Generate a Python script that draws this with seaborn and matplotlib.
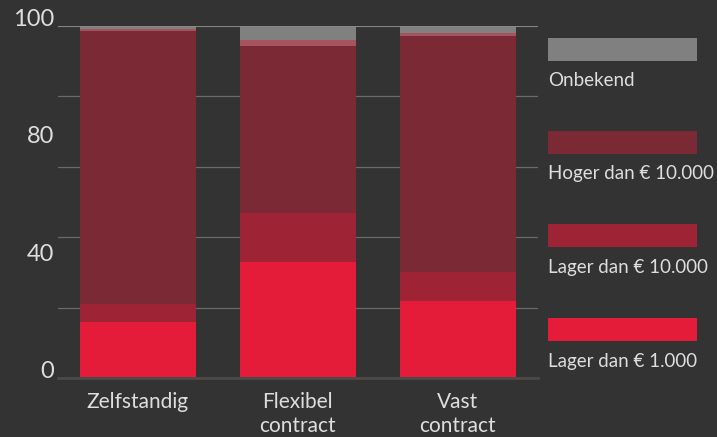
import matplotlib.pyplot as plt
import numpy as np
import pandas as pd
import seaborn as sns
from matplotlib.patches import Rectangle

categories = ["Zelfstandig", "Flexibel\ncontract", "Vast\ncontract"]
series_names = ["Lager dan € 1.000", "Lager dan € 10.000", "Hoger dan € 10.000", "Overig", "Onbekend"]
lager_1000 = [16.0, 33.0, 21.9]
lager_10000 = [5.0, 13.9, 8.2]
hoger_10000 = [77.7, 47.5, 67.1]
overig = [0.4, 1.6, 0.8]
onbekend = [0.9, 4.0, 2.0]

colors = ["#e41c3a", "#9e2334", "#7b2a35", "#a5545e", "#808080"]
legend_items = ["Onbekend", "Hoger dan € 10.000", "Lager dan € 10.000", "Lager dan € 1.000"]
legend_colors = ["#808080", "#7b2a35", "#9e2334", "#e41c3a"]

ytick_pos = [0, 100 / 3, 200 / 3, 100]
ytick_labels = ["0", "40", "80", "100"]

bg = "#333333"
txt = "#dedede"

df = pd.DataFrame(
    {
        "cat": categories,
        series_names[0]: lager_1000,
        series_names[1]: lager_10000,
        series_names[2]: hoger_10000,
        series_names[3]: overig,
        series_names[4]: onbekend,
    }
)
cum = df[series_names].cumsum(axis=1)

sns.set_style("white")
plt.rcParams["font.family"] = ["Lato", "DejaVu Sans"]

fig = plt.figure(figsize=(7.17, 4.37), dpi=100, facecolor=bg)
ax = fig.add_axes([58 / 717, 59 / 437, (537.7 - 58) / 717, 352 / 437])
ax.set_facecolor(bg)

# draw cumulative totals from the top layer down so each overlays the next
for name, col in zip(series_names[::-1], colors[::-1]):
    sns.barplot(
        x=df["cat"],
        y=cum[name],
        color=col,
        saturation=1,
        width=0.725,
        linewidth=0,
        ax=ax,
        zorder=2,
    )

ax.set_xlim(-0.5, 2.5)
ax.set_ylim(0, 100)
ax.set_xlabel("")
ax.set_ylabel("")

ax.yaxis.remove_overlapping_locs = False
ax.set_yticks(np.arange(0, 101, 20))
ax.set_yticklabels([])
ax.grid(axis="y", color="#6a6a6a", linewidth=0.9, zorder=1)
ax.set_axisbelow(True)
ax.set_yticks(ytick_pos, minor=True)
ax.set_yticklabels(ytick_labels, minor=True)
ax.tick_params(axis="y", which="both", length=0)
ax.tick_params(axis="y", which="minor", pad=3, labelsize=17, labelcolor=txt)
for lab in ax.get_yticklabels(minor=True):
    lab.set_verticalalignment("baseline")

ax.tick_params(axis="x", length=0, pad=10, labelsize=15, labelcolor=txt)
for lab in ax.get_xticklabels():
    lab.set_linespacing(1.28)

ax.axhline(100, color="#8a8a8a", linewidth=1.2, zorder=3)
for s in ["top", "right", "left"]:
    ax.spines[s].set_visible(False)
ax.spines["bottom"].set_color("#4a4a4a")
ax.spines["bottom"].set_linewidth(2)

# legend: bars with labels underneath
patch_tops = [38, 131, 224, 318]
for top, name, col in zip(patch_tops, legend_items, legend_colors):
    fig.add_artist(
        Rectangle(
            (548 / 717, 1 - (top + 23) / 437),
            149 / 717,
            23 / 437,
            transform=fig.transFigure,
            facecolor=col,
            edgecolor="none",
        )
    )
    fig.text(
        548 / 717,
        1 - (top + 43) / 437,
        name,
        color=txt,
        fontsize=13.5,
        va="center",
        ha="left",
    )

fig.savefig("out.png", dpi=100, facecolor=bg)
